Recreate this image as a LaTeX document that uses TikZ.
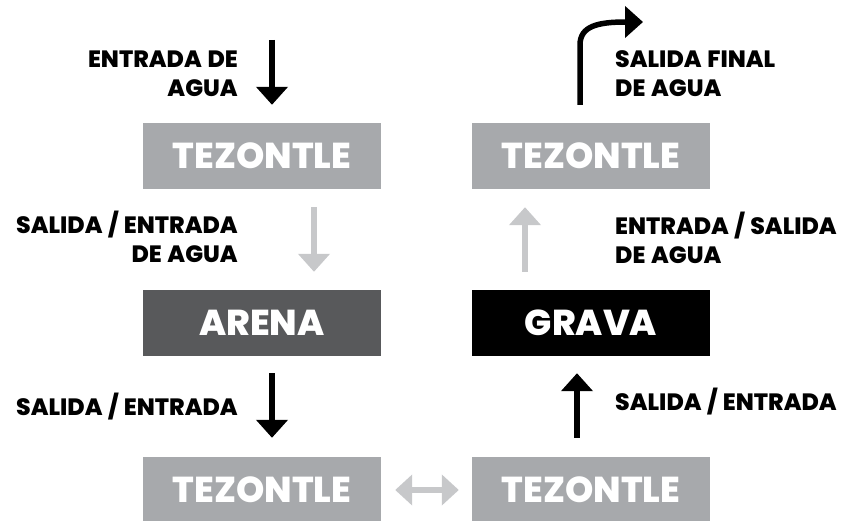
\documentclass[tikz,border=0pt]{standalone}
\usepackage{fontspec}
\setmainfont{Poppins}
\newfontfamily\heavy{Poppins ExtraBold}[WordSpace=1.25]
\usetikzlibrary{arrows.meta}
\definecolor{boxgray}{HTML}{A7A9AC}
\definecolor{arenagray}{HTML}{58595B}
\definecolor{arrgray}{HTML}{C7C8CA}
\tikzset{
  layer/.style={rectangle, minimum width=238pt, minimum height=66pt, inner sep=0pt,
    text=white, font=\heavy\fontsize{36}{36}\selectfont},
  lbl/.style={inner sep=0pt, font=\heavy\fontsize{23.6}{29}\selectfont},
  flow/.style={line width=5.5pt, -{Triangle[width=31pt,length=18pt]}},
  flowgray/.style={flow, draw=arrgray},
  dflow/.style={line width=6pt, arrgray, {Triangle[width=30pt,length=17pt]}-{Triangle[width=30pt,length=17pt]}}
}
\begin{document}
\begin{tikzpicture}[x=1pt,y=-1pt]
\useasboundingbox (0,0) rectangle (844,521);
% layers
\node[layer, fill=boxgray] (tl) at (262,156) {TEZONTLE};
\node[layer, fill=arenagray] (ar) at (262,323) {ARENA};
\node[layer, fill=boxgray] (bl) at (262,490) {TEZONTLE};
\node[layer, fill=boxgray] (tr) at (591,156) {TEZONTLE};
\node[layer, fill=black] (gr) at (591,323) {GRAVA};
\node[layer, fill=boxgray] (br) at (591,490) {TEZONTLE};
% column coordinates
\coordinate (cA) at (272,0);
\coordinate (cB) at (314,0);
\coordinate (cC) at (525,0);
\coordinate (cD) at (577,0);
\coordinate (cE) at (580,0);
\coordinate (inTop) at (272,40);
\coordinate (outTip) at (643,22);
% arrows
\draw[flow, shorten >=18pt] (inTop) -- (tl.north -| cA);
\draw[flowgray, shorten <=18pt, shorten >=18pt] (tl.south -| cB) -- (ar.north -| cB);
\draw[flow, shorten <=17pt, shorten >=19pt] (ar.south -| cA) -- (bl.north -| cA);
\draw[dflow, shorten <=14pt, shorten >=13pt] (bl.east) -- (br.west);
\draw[flow, shorten <=19pt, shorten >=17pt] (br.north -| cD) -- (gr.south -| cD);
\draw[flowgray, shorten <=18pt, shorten >=18pt] (gr.north -| cC) -- (tr.south -| cC);
\draw[flow, shorten <=18pt] (tr.north -| cE) -- (580,45) .. controls (580,26) and (598,22) .. (outTip);
% labels (base anchor = last line)
\node[lbl, anchor=base east, align=right] (l1) at (238,97) {ENTRADA DE\\AGUA};
\node[lbl, anchor=base east, align=right] (l2) at (238,263) {SALIDA / ENTRADA\\DE AGUA};
\node[lbl, anchor=base east] (l3) at (238,416) {SALIDA / ENTRADA};
\node[lbl, anchor=base west, align=left] (r1) at (615,97) {SALIDA FINAL\\DE AGUA};
\node[lbl, anchor=base west, align=left] (r2) at (615,264) {ENTRADA / SALIDA\\DE AGUA};
\node[lbl, anchor=base west] (r3) at (615,410) {SALIDA / ENTRADA};
\end{tikzpicture}
\end{document}
